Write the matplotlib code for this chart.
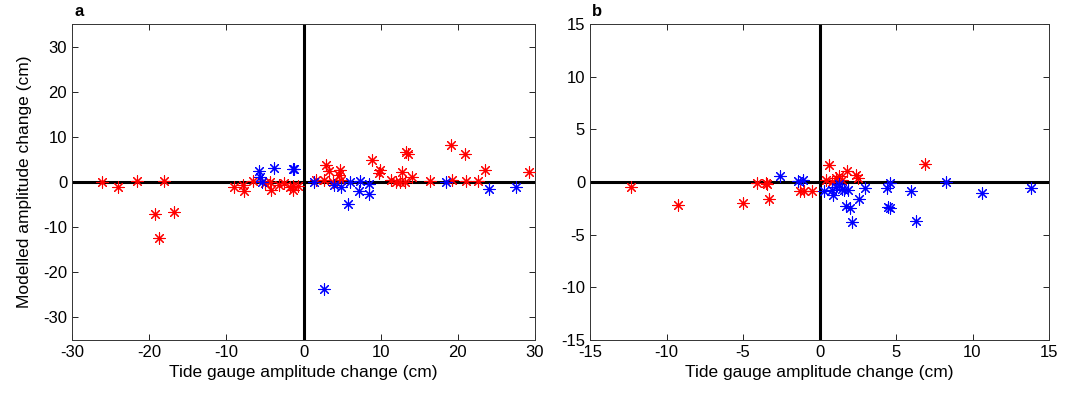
import numpy as np
import matplotlib.pyplot as plt

plt.rcParams['font.family'] = ['Liberation Sans', 'DejaVu Sans']
plt.rcParams['axes.unicode_minus'] = False

# --- panel a data (cm) ---
a_red_x = [-26.1, -24.1, -21.6, -18.1, -19.3, -18.7, -16.8,
           -9.0, -7.9, -7.7, -6.6, -5.0, -4.3, -4.2, -3.2, -2.5, -1.7, -1.4, -0.7, -1.4,
           1.6, 2.7, 2.9, 3.3, 3.8, 4.6, 4.7, 4.9, 8.9, 9.8, 9.9, 11.4, 12.0, 12.7, 12.5,
           13.1, 13.3, 13.5, 14.0, 16.4, 19.1, 19.3, 20.9, 21.0, 22.6, 23.5, 29.2]
a_red_y = [-0.1, -1.0, 0.2, 0.2, -7.1, -12.3, -6.7,
           -1.2, -0.7, -2.1, 0.2, -0.3, 0.1, -1.8, -0.7, -0.3, -1.0, -1.8, -0.9, -0.9,
           0.5, 0.4, 3.7, 2.5, 0.0, 1.5, 2.6, 0.4, 4.8, 1.9, 2.6, 0.5, 0.0, 2.2, -0.1,
           0.0, 6.7, 6.3, 1.0, 0.2, 8.3, 0.4, 6.3, 0.3, 0.3, 2.6, 2.3]
a_blue_x = [-5.8, -5.7, -5.4, -3.8, -1.4, -1.2, 1.4, 4.0, 4.8, 6.0, 5.8, 7.3, 7.2,
            8.5, 8.5, 18.5, 24.1, 27.5, 2.7]
a_blue_y = [2.5, 1.2, -0.1, 3.2, 2.8, 2.8, -0.1, -0.7, -1.2, -0.1, -4.8, 0.2, -2.0,
            -0.5, -2.6, -0.1, -1.6, -1.0, -23.6]

# --- panel b data (cm) ---
b_red_x = [-12.35, -9.24, -5.0, -4.1, -3.5, -3.4, -3.3, -1.3, -1.0, -0.5,
           0.6, 0.4, 0.8, 1.1, 1.3, 1.5, 1.8, 2.4, 2.5, 6.9]
b_red_y = [-0.47, -2.2, -2.0, -0.06, -0.1, -0.15, -1.6, -0.85, -0.85, -0.85,
           1.6, 0.16, 0.0, 0.4, 0.55, 0.2, 1.05, 0.63, 0.4, 1.7]
b_blue_x = [-2.6, -1.4, -1.1, 0.3, 0.9, 0.8, 1.1, 1.3, 1.5, 1.6, 1.85, 1.7, 2.0, 2.1,
            2.6, 3.0, 4.4, 4.6, 4.5, 4.6, 6.0, 6.3, 8.3, 10.6, 13.8]
b_blue_y = [0.6, 0.1, 0.2, -0.9, -1.25, -0.8, -0.47, -0.15, -0.7, -0.8, -0.8, -2.3, -2.5, -3.8,
            -1.6, -0.53, -0.53, -0.06, -2.35, -2.5, -0.85, -3.7, 0.0, -1.0, -0.53]

ASTER = (8, 2, 0)

fig = plt.figure(figsize=(10.65, 3.96), dpi=100)
ax1 = fig.add_axes([72 / 1065, 56 / 396, 463 / 1065, 316 / 396])
ax2 = fig.add_axes([590 / 1065, 56 / 396, 459 / 1065, 316 / 396])


def style_axis(ax, lim, ylim, step, label):
    ax.axhline(0, color='k', lw=2.2, zorder=1)
    ax.axvline(0, color='k', lw=2.2, zorder=1)
    ax.set_xlim(-lim, lim)
    ax.set_ylim(-ylim, ylim)
    ax.set_xticks(np.arange(-lim, lim + 1, step))
    ax.set_yticks(np.arange(-lim, lim + 1, step))
    ax.tick_params(direction='in', top=True, right=True, labelsize=12, length=4, width=0.6)
    for sp in ax.spines.values():
        sp.set_linewidth(0.7)
        sp.set_color('#333333')
    ax.set_xlabel('Tide gauge amplitude change (cm)', fontsize=12.5, labelpad=4)
    ax.text(0.005, 1.015, label, transform=ax.transAxes, fontsize=12, fontweight='bold',
            ha='left', va='bottom')


ax1.scatter(a_red_x, a_red_y, marker=ASTER, s=65, color='red', linewidths=0.8, zorder=3)
ax1.scatter(a_blue_x, a_blue_y, marker=ASTER, s=65, color='blue', linewidths=0.8, zorder=3)
style_axis(ax1, 30, 35, 10, 'a')
ax1.set_ylabel('Modelled amplitude change (cm)', fontsize=12.5, labelpad=8)

ax2.scatter(b_red_x, b_red_y, marker=ASTER, s=65, color='red', linewidths=0.8, zorder=3)
ax2.scatter(b_blue_x, b_blue_y, marker=ASTER, s=65, color='blue', linewidths=0.8, zorder=3)
style_axis(ax2, 15, 15, 5, 'b')

fig.savefig('out.png', dpi=100)
